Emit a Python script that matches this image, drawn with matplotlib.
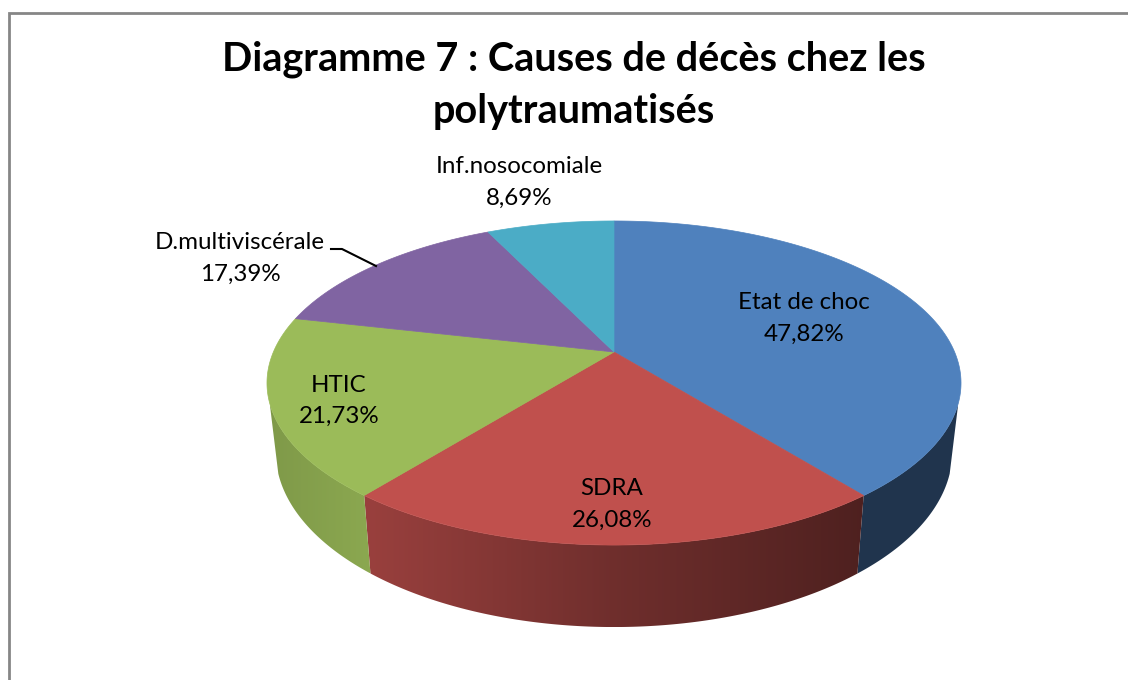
import numpy as np
import matplotlib
matplotlib.use("Agg")
import matplotlib.pyplot as plt
from matplotlib.patches import Polygon
from matplotlib.colors import to_rgb

plt.rcParams['font.family'] = ['Lato', 'DejaVu Sans']

title_lines = ["Diagramme 7 : Causes de décès chez les", "polytraumatisés"]
categories = ["Etat de choc", "SDRA", "HTIC", "D.multiviscérale", "Inf.nosocomiale"]
values = [47.82, 26.08, 21.73, 17.39, 8.69]
value_labels = ["47,82%", "26,08%", "21,73%", "17,39%", "8,69%"]
top_colors = ["#4F81BD", "#C0504D", "#9BBB59", "#8064A2", "#4BACC6"]

# layout (pixel coordinates of the reference)
W, H = 1128, 680
CX, CY = 614, 352
A, B, K = 340.6, 156.1, 0.1914
DEPTH = 66.3
BOTTOM_SCALE = 0.975
WALL_FROM, WALL_TO = 108, 252  # degrees clockwise from 12 o'clock
# x centre, baseline of first line, baseline of second line
label_pos = [(804, 309, 341), (612, 495, 527), (339, 392, 423), (240, 249, 281), (519, 173, 205)]

# side shading: brightness factor against x pixel position
shade_x = {0: [855, 965], 1: [366, 614, 861], 2: [268, 372]}
shade_f = {0: [0.41, 0.41], 1: [0.80, 0.58, 0.41], 2: [0.82, 0.90]}


def project(theta, scale=1.0):
    u, v = np.sin(theta), np.cos(theta)
    d = 1 + K * v
    return CX + scale * A * u / d, CY - B * v / d


def project_bottom(theta):
    x, y = project(theta, BOTTOM_SCALE)
    return x, y + DEPTH / (1 + K * np.cos(theta))


fig = plt.figure(figsize=(W / 100, H / 100), dpi=100, facecolor="white")
ax = fig.add_axes([0, 0, 1, 1])

# chart frame: only left and top edges show in the picture
ax.plot([8.5, 8.5, W], [H, 12.5, 12.5], color="#868686", lw=2.0,
        solid_joinstyle="miter", zorder=1)

fractions = np.array(values) / np.sum(values)
edges = np.concatenate([[0], np.cumsum(fractions)]) * 2 * np.pi

# side wall: a horizontal colour ramp clipped to each slice's wall
for i, col in enumerate(top_colors):
    if i not in shade_x:
        continue
    lo = max(edges[i], np.radians(WALL_FROM))
    hi = min(edges[i + 1], np.radians(WALL_TO))
    th = np.linspace(lo, hi, 160)
    xt, yt = project(th)
    xb, yb = project_bottom(th)
    pts = np.vstack([np.column_stack([xt, yt]), np.column_stack([xb, yb])[::-1]])
    x0, x1 = pts[:, 0].min(), pts[:, 0].max()
    xs = np.linspace(x0, x1, 512)
    ramp = np.interp(xs, shade_x[i], shade_f[i])[None, :, None] * np.array(to_rgb(col))[None, None, :]
    im = ax.imshow(ramp, extent=(x0, x1, pts[:, 1].max(), pts[:, 1].min()),
                   aspect="auto", interpolation="bilinear", zorder=2)
    clip = Polygon(pts, closed=True, transform=ax.transData)
    im.set_clip_path(clip)

# top surface
for i, col in enumerate(top_colors):
    th = np.linspace(edges[i], edges[i + 1], 200)
    x, y = project(th)
    pts = np.vstack([[CX, CY], np.column_stack([x, y])])
    ax.add_patch(Polygon(pts, closed=True, facecolor=col, edgecolor=col, lw=0.5, zorder=3))

# labels
for name, val, (lx, y1, y2) in zip(categories, value_labels, label_pos):
    ax.text(lx, y1, name, ha="center", va="baseline", fontsize=17.4, color="black", zorder=5)
    ax.text(lx, y2, val, ha="center", va="baseline", fontsize=17.4, color="black", zorder=5)

# leader line of D.multiviscérale
ax.plot([331, 342, 376], [249, 249, 266], color="black", lw=1.5, zorder=5)

# title
ax.text(573.5, 70.5, title_lines[0], ha="center", va="baseline", fontsize=28.5, fontweight="bold", zorder=5)
ax.text(574, 123, title_lines[1], ha="center", va="baseline", fontsize=28.5, fontweight="bold", zorder=5)

ax.set_xlim(0, W)
ax.set_ylim(H, 0)
ax.axis("off")

fig.savefig("out.png", dpi=100, facecolor="white")
